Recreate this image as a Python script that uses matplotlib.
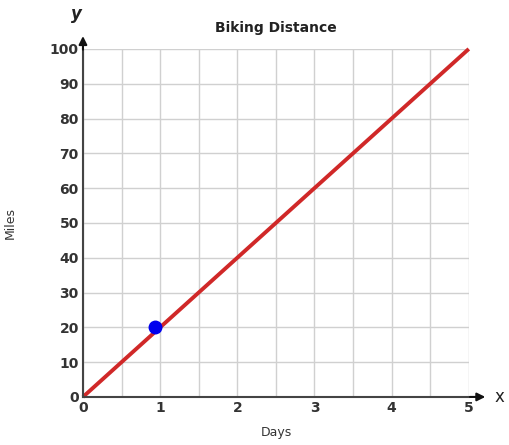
import matplotlib.pyplot as plt
import numpy as np

# data
days = [0, 5]
miles = [0, 100]
point_x = [0.93]
point_y = [20]
x_ticks = [0, 1, 2, 3, 4, 5]
y_ticks = [0, 10, 20, 30, 40, 50, 60, 70, 80, 90, 100]

fig = plt.figure(figsize=(5.09, 4.45), dpi=100)
ax = fig.add_axes([0.163, 0.108, 0.758, 0.782])

ax.set_xlim(0, 5)
ax.set_ylim(0, 100)
ax.set_xticks(np.arange(0, 5.01, 0.5))
ax.set_yticks(y_ticks)
ax.set_xticklabels([str(t) if i % 2 == 0 else '' for i, t in
                    enumerate(np.repeat(x_ticks, 2)[:11])])
ax.grid(True, color='#d0d0d0', linewidth=1)
ax.set_axisbelow(True)
ax.tick_params(length=0, pad=3, labelsize=10, colors='#333333')
for lbl in ax.get_xticklabels() + ax.get_yticklabels():
    lbl.set_fontweight('bold')

for side in ['top', 'right']:
    ax.spines[side].set_visible(False)
for side in ['left', 'bottom']:
    ax.spines[side].set_color('#444444')
    ax.spines[side].set_linewidth(1.5)

# axis arrows
ax.annotate('', xy=(0, 104.5), xytext=(0, 99), annotation_clip=False,
            arrowprops=dict(arrowstyle='-|>', color='#111111', lw=1.5, mutation_scale=12))
ax.annotate('', xy=(5.25, 0), xytext=(4.98, 0), annotation_clip=False,
            arrowprops=dict(arrowstyle='-|>', color='#111111', lw=1.5, mutation_scale=12))
ax.text(-0.08, 110, 'y', fontsize=12, style='italic', fontweight='bold',
        ha='center', va='center', color='#222222', clip_on=False)
ax.text(5.4, 0, 'x', fontsize=12, ha='center', va='center', color='#222222', clip_on=False)

ax.plot(days, miles, color='#d02828', linewidth=2.8, solid_capstyle='butt', clip_on=False)
ax.plot(point_x, point_y, 'o', color='#0000ee', markersize=9)

ax.set_title('Biking Distance', fontsize=10, fontweight='bold', color='#222222', pad=12)
ax.set_xlabel('Days', fontsize=9, color='#333333', labelpad=8)
ax.set_ylabel('Miles', fontsize=9, color='#333333', labelpad=24)

fig.savefig('out.png', dpi=100)
